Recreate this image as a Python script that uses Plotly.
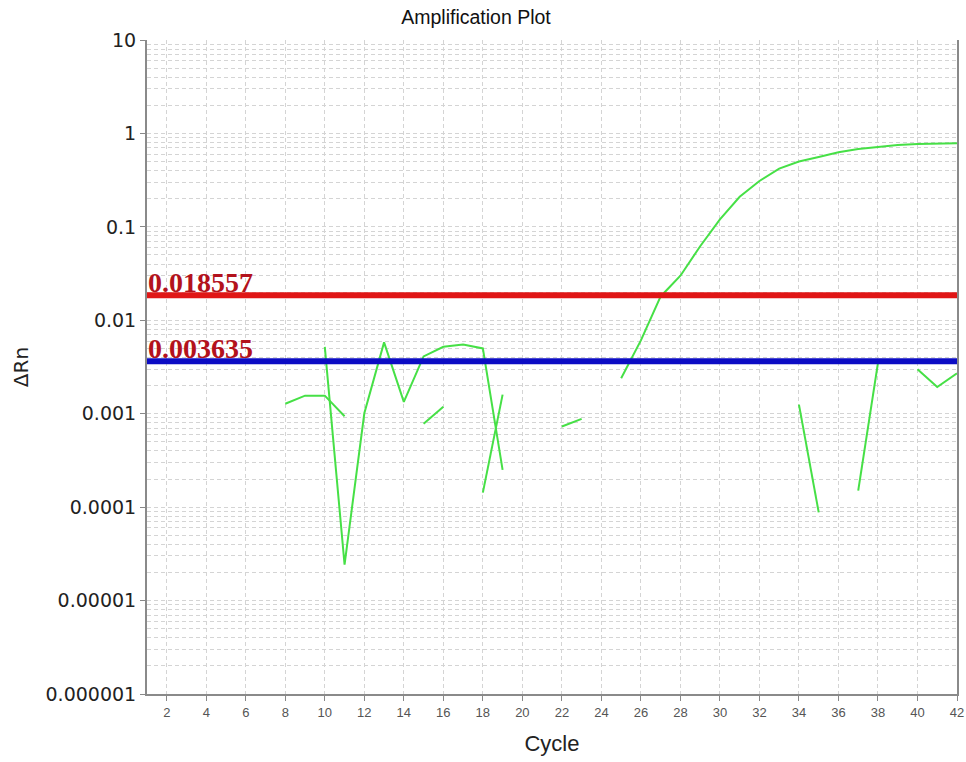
import math
import plotly.graph_objects as go

# ---------------- data ----------------
cycles = list(range(1, 43))

# well with amplification curve (plus an early noise segment)
well_a = [None] * 21 + [0.00073, 0.00088, None,
          0.0024, 0.0061, 0.018, 0.030, 0.062, 0.12, 0.21, 0.31, 0.42,
          0.50, 0.56, 0.63, 0.68, 0.72, 0.75, 0.77, 0.78, 0.785]

# noisy baseline well 1
well_b = [None] * 9 + [0.0052, 0.0000243, 0.00101, 0.0058, 0.00134, 0.0041,
          0.0052, 0.0055, 0.0050, 0.00025] + [None] * 14 + \
         [0.00125, 0.000088, None, 0.00015, 0.0035, None, 0.0030, 0.00193, 0.0027]

# noisy baseline well 2
well_c = [None] * 7 + [0.00128, 0.00156, 0.00156, 0.00094, None, None, None,
          0.00078, 0.00119, None, 0.000143, 0.0016] + [None] * 23

thresholds = [0.018557, 0.003635]
threshold_labels = ["0.018557", "0.003635"]
threshold_colors = ["#e01616", "#0c0cc4"]

x_tick_vals = list(range(2, 43, 2))
y_tick_vals = [1e-6, 1e-5, 1e-4, 1e-3, 1e-2, 1e-1, 1, 10]
y_tick_text = ["0.000001", "0.00001", "0.0001", "0.001", "0.01", "0.1", "1", "10"]

# ---------------- figure ----------------
GREEN = "#46e046"
GRID = "#d4d4d4"
fig = go.Figure()

for w in (well_a, well_b, well_c):
    fig.add_trace(go.Scatter(x=cycles, y=w, mode="lines",
                             line=dict(color=GREEN, width=2),
                             connectgaps=False, showlegend=False,
                             hoverinfo="skip"))

for thr, col in zip(thresholds, threshold_colors):
    fig.add_trace(go.Scatter(x=[cycles[0], cycles[-1]], y=[thr, thr], mode="lines",
                             line=dict(color=col, width=6),
                             showlegend=False, hoverinfo="skip"))

for thr, lab in zip(thresholds, threshold_labels):
    fig.add_annotation(x=0, xref="paper", xanchor="left", xshift=-1,
                       y=math.log10(thr), yref="y", yanchor="bottom", yshift=-5,
                       text=lab, showarrow=False,
                       font=dict(family="Liberation Serif", size=28,
                                 color="#b3121c", weight="bold"))

minor_vals = [m * 10 ** e for e in range(-6, 1) for m in range(2, 10)]

fig.update_layout(
    width=966, height=762, autosize=False,
    margin=dict(l=147, r=9, t=40, b=68),
    paper_bgcolor="white", plot_bgcolor="white",
    font=dict(family="Liberation Sans", color="#222222"),
    title=dict(text="Amplification Plot", x=476 / 966, xref="container",
               xanchor="center", y=1 - 17 / 762, yref="container", yanchor="middle",
               font=dict(family="Liberation Sans", size=19.5, color="#111111")),
    xaxis=dict(range=[1, 42], tickmode="array", tickvals=x_tick_vals,
               automargin=False,
               ticks="outside", ticklen=5, tickcolor="#888888",
               tickfont=dict(family="Liberation Sans", size=13, color="#555555"),
               showline=True, linecolor="#8a8a8a", linewidth=2,
               showgrid=True, gridcolor=GRID, griddash="4px,3px", gridwidth=1,
               zeroline=False,
               title=dict(text="Cycle", standoff=17,
                          font=dict(family="Liberation Sans", size=22, color="#222222"))),
    yaxis=dict(type="log", range=[-6, 1], tickmode="array",
               tickvals=y_tick_vals, ticktext=y_tick_text,
               automargin=False,
               ticks="outside", ticklen=5, tickcolor="#888888",
               tickfont=dict(family="DejaVu Sans", size=19, color="#222222"),
               showline=True, linecolor="#8a8a8a", linewidth=2, mirror=True,
               showgrid=True, gridcolor=GRID, griddash="4px,3px", gridwidth=1,
               minor=dict(tickmode="array", tickvals=minor_vals, showgrid=True,
                          gridcolor=GRID, griddash="4px,3px", gridwidth=1,
                          ticks=""),
               zeroline=False,
               title=dict(text="ΔRn", standoff=12,
                          font=dict(family="DejaVu Sans", size=20, color="#222222"))),
)

fig.write_html("out.html",
               config={"displayModeBar": False, "responsive": False},
               post_script="document.body.style.margin='0px';document.body.style.overflow='hidden';")
